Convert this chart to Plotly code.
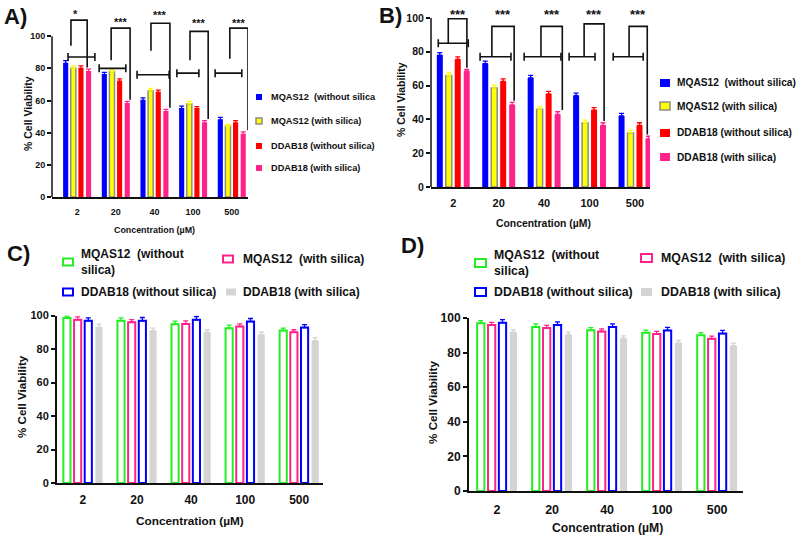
import plotly.graph_objects as go

W, H = 800, 540
FONT = "Liberation Sans, Arial, Helvetica, sans-serif"
INK = "#111111"

# ---------------- data ----------------
concentrations = ["2", "20", "40", "100", "500"]
y_ticks = [0, 20, 40, 60, 80, 100]

# Panel A (filled bars)
a_series = ["MQAS12  (without silica", "MQAS12 (with silica)",
            "DDAB18 (without silica)", "DDAB18 (with silica)"]
a_mqas12_without = [83, 76, 60, 55, 48]
a_mqas12_with = [80, 78, 66, 58, 44]
a_ddab18_without = [80, 72, 65, 55, 46]
a_ddab18_with = [78, 58, 53, 46, 39]
a_err_mqas12_without = [1.8, 1.5, 1.6, 1.5, 1.5]
a_err_mqas12_with = [1.5, 1.2, 1.5, 1.5, 1.2]
a_err_ddab18_without = [1.5, 1.5, 1.5, 1.2, 1.5]
a_err_ddab18_with = [1.5, 1.5, 1.5, 1.5, 1.5]
a_stars = ["*", "***", "***", "***", "***"]

# Panel B (filled bars)
b_series = ["MQAS12  (without silica)", "MQAS12 (with silica)",
            "DDAB18 (without silica)", "DDAB18 (with silica)"]
b_mqas12_without = [78, 73, 64.5, 54, 42]
b_mqas12_with = [66, 58.5, 46, 38, 32]
b_ddab18_without = [75.5, 62.5, 55, 45.5, 36.5]
b_ddab18_with = [68.5, 48.5, 43, 36.5, 28.5]
b_err_mqas12_without = [1.5, 1.5, 1.5, 1.5, 1.5]
b_err_mqas12_with = [1.8, 1.8, 1.5, 1.5, 1.5]
b_err_ddab18_without = [1.5, 1.5, 1.5, 1.5, 1.5]
b_err_ddab18_with = [1.0, 1.5, 1.5, 1.5, 1.5]
b_stars = ["***", "***", "***", "***", "***"]

# Panel C (open bars)
c_series = ["MQAS12  (without<br>silica)", "MQAS12  (with silica)",
            "DDAB18 (without silica)", "DDAB18 (with silica)"]
c_mqas12_without = [98.5, 96.8, 94.8, 92.4, 91]
c_mqas12_with = [97.4, 96, 95, 93.5, 90]
c_ddab18_without = [96.8, 96.8, 97.4, 96.4, 92.8]
c_ddab18_with = [93, 91, 90, 88.5, 85]
c_err_mqas12_without = [1.2, 1.8, 1.8, 1.8, 1.5]
c_err_mqas12_with = [1.8, 1.5, 1.8, 1.5, 1.5]
c_err_ddab18_without = [1.8, 2.0, 2.0, 1.8, 1.8]
c_err_ddab18_with = [1.8, 1.5, 1.5, 1.5, 1.8]

# Panel D (open bars)
d_series = ["MQAS12  (without<br>silica)", "MQAS12  (with silica)",
            "DDAB18 (without silica)", "DDAB18 (with silica)"]
d_mqas12_without = [97, 94.8, 92.9, 91.5, 90]
d_mqas12_with = [96, 94.2, 92.2, 90.8, 88]
d_ddab18_without = [97.3, 96, 94.8, 92.8, 91]
d_ddab18_with = [91.8, 90.5, 88.2, 85.5, 84]
d_err_mqas12_without = [1.5, 1.8, 1.5, 1.5, 1.5]
d_err_mqas12_with = [1.5, 1.5, 1.5, 1.5, 1.5]
d_err_ddab18_without = [1.8, 1.8, 1.8, 1.8, 1.8]
d_err_ddab18_with = [1.5, 1.5, 1.5, 1.5, 1.5]

# ---------------- styles ----------------
BLUE, YELLOW, RED, PINK = "#0000FF", "#FFFF00", "#FF0000", "#FF2288"
GREEN, GREY = "#22EE22", "#D4D4D4"
filled_styles = [
    dict(fill=BLUE, line=BLUE, lw=0, err=BLUE),
    dict(fill=YELLOW, line="#8C8C8C", lw=1.5, err=YELLOW),
    dict(fill=RED, line=RED, lw=0, err=RED),
    dict(fill=PINK, line=PINK, lw=0, err=PINK),
]
open_styles = [
    dict(fill="white", line=GREEN, lw=2, err=GREEN),
    dict(fill="white", line=PINK, lw=2, err=PINK),
    dict(fill="white", line=BLUE, lw=2, err=BLUE),
    dict(fill=GREY, line=GREY, lw=0, err=GREY),
]

# bracket geometry (annotation layout, in category units / axis units)
a_br = dict(h_left=[-0.235, -0.43, -0.45, -0.42, -0.43], h_right=[0.46, 0.26, 0.38, 0.15, 0.26],
            h_y=[87, 80, 76, 77, 77], leg_left=[-0.16, -0.12, -0.09, -0.08, -0.05],
            leg_left_bottom=[94, 85, 91, 85, 86], top=[110, 105, 108, 103, 105],
            leg_right=[0.26, 0.37, 0.40, 0.39, 0.42], star_y=[114, 109, 113, 108, 108],
            star_dx=[-0.1, 0, 0, 0, 0], cap=2.5, star_size=11)
b_br = dict(h_left=[-0.33, -0.41, -0.44, -0.45, -0.48], h_right=[0.33, 0.27, 0.37, 0.12, 0.18],
            h_y=[85, 77, 77, 77, 77], leg_left=[-0.11, -0.15, -0.07, -0.12, -0.13],
            leg_left_bottom=[85, 77, 77, 77, 77], top=[99.5, 95, 95, 96.5, 95],
            leg_right=[0.30, 0.34, 0.40, 0.32, 0.27], star_y=[102, 102, 102, 102, 102],
            star_dx=[0, 0, 0, 0, 0], cap=2.4, star_size=13)


def px(x):
    return x / W


def py(y):
    return 1 - y / H


fig = go.Figure()
x_idx = list(range(len(concentrations)))


def add_bars(sfx, names, series, errs, styles):
    for name, vals, err, st in zip(names, series, errs, styles):
        fig.add_trace(go.Bar(
            x=x_idx, y=vals, name=name.replace("<br>", " "),
            xaxis="x" + sfx, yaxis="y" + sfx,
            marker=dict(color=st["fill"], line=dict(color=st["line"], width=st["lw"])),
            error_y=dict(type="data", array=err, arrayminus=[0] * len(err), symmetric=False,
                         color=st["err"], thickness=1.3, width=2.5),
            showlegend=False))


add_bars("", a_series, [a_mqas12_without, a_mqas12_with, a_ddab18_without, a_ddab18_with],
         [a_err_mqas12_without, a_err_mqas12_with, a_err_ddab18_without, a_err_ddab18_with], filled_styles)
add_bars("2", b_series, [b_mqas12_without, b_mqas12_with, b_ddab18_without, b_ddab18_with],
         [b_err_mqas12_without, b_err_mqas12_with, b_err_ddab18_without, b_err_ddab18_with], filled_styles)
add_bars("3", c_series, [c_mqas12_without, c_mqas12_with, c_ddab18_without, c_ddab18_with],
         [c_err_mqas12_without, c_err_mqas12_with, c_err_ddab18_without, c_err_ddab18_with], open_styles)
add_bars("4", d_series, [d_mqas12_without, d_mqas12_with, d_ddab18_without, d_ddab18_with],
         [d_err_mqas12_without, d_err_mqas12_with, d_err_ddab18_without, d_err_ddab18_with], open_styles)


def bold(size):
    return dict(family=FONT, size=size, color=INK, weight="bold")


def set_axes(sfx, xdom, ydom, xr, yr, fx, fy, y_line, lw, standoff):
    xa = dict(domain=[px(xdom[0]), px(xdom[1])], range=list(xr), tickmode="array",
              tickvals=x_idx, ticktext=concentrations, showline=True, linecolor=INK,
              linewidth=lw, ticks="", showgrid=False, zeroline=False, tickfont=bold(fx),
              anchor="y" + sfx, ticklabelstandoff=standoff, automargin=False)
    ya = dict(domain=[py(ydom[0]), py(ydom[1])], range=list(yr), tickmode="array",
              tickvals=y_ticks, showline=y_line, linecolor=INK, linewidth=lw,
              ticks="outside", ticklen=4, tickwidth=lw, tickcolor=INK, showgrid=False,
              zeroline=False, tickfont=bold(fy), anchor="x" + sfx, automargin=False)
    fig.update_layout(**{"xaxis" + sfx: xa, "yaxis" + sfx: ya})
    if not y_line:
        fig.add_shape(type="line", xref="x%s domain" % sfx, yref="y%s domain" % sfx,
                      x0=0, x1=0, y0=0, y1=100 / yr[1], line=dict(color=INK, width=lw))


set_axes("", (52, 248), (197, 4), (-0.65, 4.42), (0, 120), 9, 9, False, 1.5, 5)
set_axes("2", (431, 650), (187, 1), (-0.49, 4.33), (0, 110), 11, 10.5, False, 1.5, 5)
set_axes("3", (57, 323), (483, 315.5), (-0.48, 4.44), (0, 100), 12, 11, True, 2, 5)
set_axes("4", (469, 743), (491, 318), (-0.51, 4.47), (0, 100), 12.5, 12, True, 2, 6)


def add_brackets(sfx, br, stars, pink_vals, pink_err):
    xr, yr = "x" + sfx, "y" + sfx
    c = br["cap"]
    for i in range(len(stars)):
        hl, hr, hy = i + br["h_left"][i], i + br["h_right"][i], br["h_y"][i]
        path = "M %f,%f L %f,%f M %f,%f L %f,%f M %f,%f L %f,%f" % (
            hl, hy - c, hl, hy + c, hl, hy, hr, hy, hr, hy - c, hr, hy + c)
        fig.add_shape(type="path", xref=xr, yref=yr, path=path,
                      line=dict(color=INK, width=1.6))
        ll, rl, top = i + br["leg_left"][i], i + br["leg_right"][i], br["top"][i]
        rb = pink_vals[i] + pink_err[i] + 1.0
        path2 = "M %f,%f L %f,%f L %f,%f L %f,%f" % (
            ll, br["leg_left_bottom"][i], ll, top, rl, top, rl, rb)
        fig.add_shape(type="path", xref=xr, yref=yr, path=path2,
                      line=dict(color=INK, width=1.6))
        fig.add_annotation(x=(ll + rl) / 2 + br["star_dx"][i], y=br["star_y"][i], xref=xr, yref=yr,
                           text=stars[i], showarrow=False, font=bold(br["star_size"]),
                           yanchor="middle", xanchor="center")


add_brackets("", a_br, a_stars, a_ddab18_with, a_err_ddab18_with)
add_brackets("2", b_br, b_stars, b_ddab18_with, b_err_ddab18_with)


def text(x, y, s, size, xanchor="center", yanchor="middle", angle=0, align="left"):
    fig.add_annotation(x=px(x), y=py(y), xref="paper", yref="paper", text=s, showarrow=False,
                       font=bold(size), xanchor=xanchor, yanchor=yanchor, textangle=angle,
                       align=align, borderpad=0)


# panel letters
text(3, 17, "A)", 22, xanchor="left")
text(378, 15, "B)", 22, xanchor="left")
text(6, 254, "C)", 22, xanchor="left")
text(400, 246, "D)", 22, xanchor="left")

# axis titles
text(28, 114, "% Cell Viability", 10.5, angle=-90)
text(154, 230, "Concentration (µM)", 8.9)
text(401, 100, "% Cell Viability", 10.5, angle=-90)
text(543, 223, "Concentration (µM)", 10.4)
text(21, 397, "% Cell Viability", 11.6, angle=-90)
text(190, 521, "Concentration (µM)", 11.8)
text(432, 403, "% Cell Viability", 11.7, angle=-90)
text(607, 528, "Concentration (µM)", 12.2)


# legends (drawn manually)
def legend_item(sq_left, sq_w, sq_h, cy, tx, label, st, size):
    if st["fill"] == "white":
        line = dict(color=st["line"], width=2)
    else:
        line = dict(color=st["line"], width=st["lw"])
    fig.add_shape(type="rect", xref="paper", yref="paper",
                  x0=px(sq_left), x1=px(sq_left + sq_w), y0=py(cy + sq_h / 2), y1=py(cy - sq_h / 2),
                  fillcolor=st["fill"], line=line)
    text(tx, cy, label, size, xanchor="left")


for lab, st, cy in zip(a_series, filled_styles, [97, 121, 146, 168]):
    legend_item(256, 6, 6, cy, 270, lab, st, 9.2)
for lab, st, cy in zip(b_series, filled_styles, [83, 106, 133, 157]):
    legend_item(660, 10, 8, cy, 676, lab, st, 10.2)
for lab, st, (sx, cy, tx) in zip(c_series, open_styles,
                                 [(63, 262, 80), (223, 259, 242), (63, 292, 80), (226, 292, 242)]):
    legend_item(sx, 10, 7, cy, tx, lab, st, 12)
for lab, st, (sx, cy, tx) in zip(d_series, open_styles,
                                 [(475, 263, 493), (641, 258, 660), (475, 292, 493), (641, 292, 660)]):
    legend_item(sx, 11, 8, cy, tx, lab, st, 12.3)

fig.update_layout(
    width=W, height=H, margin=dict(l=0, r=0, t=0, b=0, autoexpand=False),
    paper_bgcolor="white", plot_bgcolor="white",
    barmode="group", bargap=0.21, bargroupgap=0.33,
    showlegend=False, font=dict(family=FONT, color=INK),
)

fig.write_html("out.html", config={"displayModeBar": False},
               post_script="document.body.style.margin='0px';document.body.style.padding='0px';")
